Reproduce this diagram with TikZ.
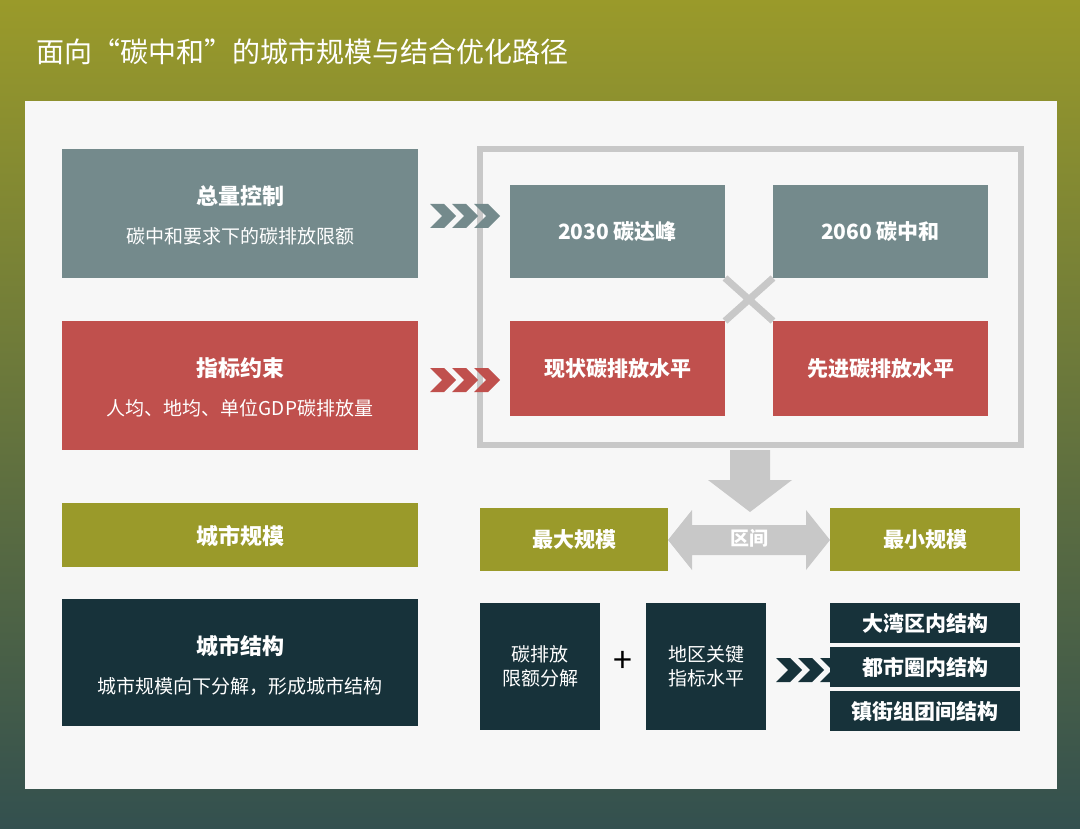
\documentclass[tikz,border=0pt]{standalone}
\usepackage{fontspec}
\setmainfont{Noto Sans CJK SC}
\newfontfamily\cjkb[FakeBold=1.5]{Noto Sans CJK SC}
\usetikzlibrary{shapes.arrows}
\definecolor{olv}{HTML}{9A9A2A}
\definecolor{gry}{HTML}{748A8C}
\definecolor{rd}{HTML}{C0504D}
\definecolor{dk}{HTML}{17323A}
\definecolor{bgb}{HTML}{33504F}
\definecolor{lg}{HTML}{C8C8C8}
\tikzset{
 bx/.style={inner sep=0pt,align=center,text=white,font=\fontsize{21}{28}\selectfont\bfseries},
 tx/.style={text=white,font=\fontsize{19}{24}\selectfont},
 tb/.style={text=white,font=\fontsize{22}{28}\selectfont\bfseries},
}
\newcommand{\chev}[3]{\foreach \k in {0,1,2}{\fill[#3] ({#1+\k*22},{#2-12}) -- ++(14,0) -- ++(12,12) -- ++(-12,12) -- ++(-14,0) -- ++(12,-12) -- cycle;}}
\begin{document}
\begin{tikzpicture}[x=1pt,y=-1pt]
\shade[top color=olv,bottom color=bgb] (0,0) rectangle (1080,829);
\useasboundingbox (0,0) rectangle (1080,829);
\node[anchor=west,text=white,font=\fontsize{28}{34}\selectfont] (title) at (33,52) {面向“碳中和”的城市规模与结合优化路径};
\fill[white!94!gray] (25,101) rectangle (1057,789);
% left column
\fill[gry] (62,149) rectangle (418,278);
\node[tb] (a1) at (240,196) {总量控制};
\node[tx] (a2) at (240,236) {碳中和要求下的碳排放限额};
\fill[rd] (62,321) rectangle (418,450);
\node[tb] (b1) at (240,368) {指标约束};
\node[tx] (b2) at (240,408) {人均、地均、单位GDP碳排放量};
\fill[olv] (62,503) rectangle (418,567);
\node[tb] (c1) at (240,536) {城市规模};
\fill[dk] (62,599) rectangle (418,726);
\node[tb] (d1) at (240,646) {城市结构};
\node[tx] (d2) at (240,686) {城市规模向下分解，形成城市结构};
% frame
\draw[lg,line width=6pt] (480,149) rectangle (1021,445);
\draw[lg,line width=7pt] (725,278) -- (773,321) (773,278) -- (725,321);
\fill[gry] (510,185) rectangle (725,278); \node[bx] (p1) at (617.5,231.5) {2030 碳达峰};
\fill[gry] (773,185) rectangle (988,278); \node[bx] (p2) at (880.5,231.5) {2060 碳中和};
\fill[rd] (510,321) rectangle (725,416); \node[bx] (p3) at (617.5,368.5) {现状碳排放水平};
\fill[rd] (773,321) rectangle (988,416); \node[bx] (p4) at (880.5,368.5) {先进碳排放水平};
\chev{430}{216}{gry}
\chev{430}{380}{rd}
\fill[lg] (730,450) -- (770,450) -- (770,480) -- (792,480) -- (750,512) -- (708,480) -- (730,480) -- cycle;
% scale row
\fill[lg] (668,540) -- (692,510) -- (692,525) -- (806,525) -- (806,510) -- (830,540) -- (806,570) -- (806,555) -- (692,555) -- (692,570) -- cycle;
\node[text=white,font=\fontsize{19}{24}\selectfont\bfseries] (q0) at (749,538) {区间};
\fill[olv] (480,508) rectangle (668,571); \node[bx] (q1) at (574,539.5) {最大规模};
\fill[olv] (830,508) rectangle (1020,571); \node[bx] (q2) at (925,539.5) {最小规模};
% structure row
\fill[dk] (480,603) rectangle (600,730); \node[tx,align=center] (r1) at (540,666.5) {碳排放\\限额分解};
\node[font=\fontsize{34}{34}\selectfont] (plus) at (623,662) {+};
\fill[dk] (646,603) rectangle (766,730); \node[tx,align=center] (r2) at (706,666.5) {地区关键\\指标水平};
\chev{776}{670}{dk}
\fill[dk] (830,603) rectangle (1020,643); \node[bx] (s1) at (925,623) {大湾区内结构};
\fill[dk] (830,647) rectangle (1020,687); \node[bx] (s2) at (925,667) {都市圈内结构};
\fill[dk] (830,691) rectangle (1020,731); \node[bx] (s3) at (925,711) {镇街组团间结构};
\end{tikzpicture}
\end{document}
